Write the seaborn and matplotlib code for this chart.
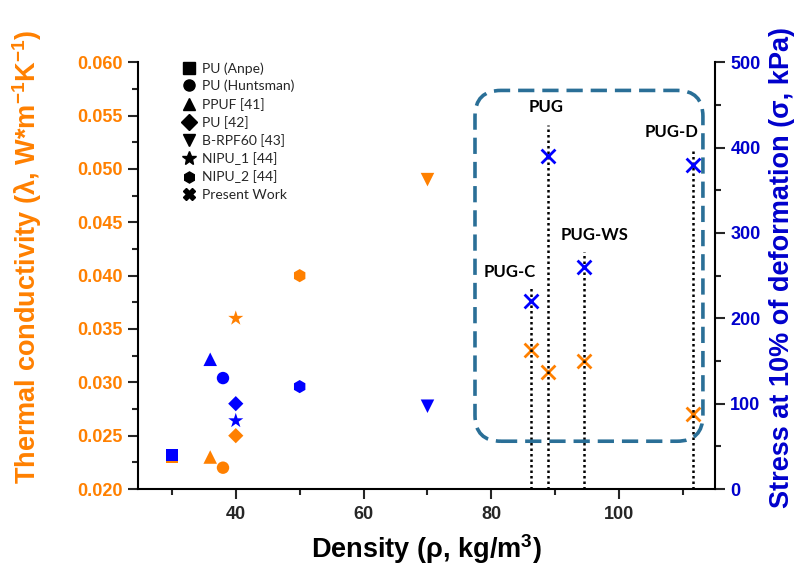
import matplotlib
matplotlib.use("Agg")
import numpy as np
import pandas as pd
import matplotlib.pyplot as plt
import seaborn as sns
from matplotlib.patches import FancyBboxPatch
from matplotlib.lines import Line2D
from matplotlib.ticker import MultipleLocator

# ---------------- data ----------------
materials = ["PU (Anpe)", "PU (Huntsman)", "PPUF [41]", "PU [42]",
             "B-RPF60 [43]", "NIPU_1 [44]", "NIPU_2 [44]"]
lit_density = [30, 38, 36, 40, 70, 40, 50]
lit_conductivity = [0.023, 0.022, 0.023, 0.025, 0.049, 0.036, 0.040]
lit_stress = [40, 130, 152, 100, 97, 80, 120]

samples = ["PUG-C", "PUG", "PUG-WS", "PUG-D"]
pw_density = [86.2, 88.8, 94.5, 111.6]
pw_conductivity = [0.033, 0.031, 0.032, 0.027]
pw_stress = [220, 390, 260, 380]
guide_top = [235, 426, 278, 399]          # top of dotted guide lines (kPa)

left_ticks = [0.020, 0.025, 0.030, 0.035, 0.040, 0.045, 0.050, 0.055, 0.060]
right_ticks = [0, 100, 200, 300, 400, 500]
x_ticks = [40, 60, 80, 100]

# ---------------- style ----------------
ORANGE = "#FF8000"
BLUE = "#0000FF"
BLUE_TXT = "#0000CC"
BOX = "#2A6F97"

sns.set_theme(style="white")
plt.rcParams["font.family"] = ["Liberation Sans", "DejaVu Sans"]
plt.rcParams["mathtext.fontset"] = "custom"
plt.rcParams["mathtext.rm"] = "Liberation Sans:bold"
plt.rcParams["mathtext.it"] = "Liberation Sans:bold"
plt.rcParams["mathtext.bf"] = "Liberation Sans:bold"
plt.rcParams["mathtext.default"] = "rm"

marker_map = {"PU (Anpe)": "s", "PU (Huntsman)": "o", "PPUF [41]": "^",
              "PU [42]": "D", "B-RPF60 [43]": "v", "NIPU_1 [44]": "*",
              "NIPU_2 [44]": "h"}
size_map = {"PU (Anpe)": 70, "PU (Huntsman)": 80, "PPUF [41]": 95,
            "PU [42]": 60, "B-RPF60 [43]": 95, "NIPU_1 [44]": 130,
            "NIPU_2 [44]": 90}

lit = pd.DataFrame({"material": materials, "density": lit_density,
                    "conductivity": lit_conductivity, "stress": lit_stress})
lit["size"] = lit["material"].map(size_map)
pw = pd.DataFrame({"sample": samples, "density": pw_density,
                   "conductivity": pw_conductivity, "stress": pw_stress,
                   "top": guide_top})

fig = plt.figure(figsize=(8, 5.66), dpi=100)
ax = fig.add_axes([0.1725, 0.136, 0.7213, 0.754])
ax2 = ax.twinx()

# thermal conductivity (orange, left axis)
sns.scatterplot(data=lit, x="density", y="conductivity", style="material",
                markers=marker_map, size="size", sizes=(60, 130),
                color=ORANGE, linewidth=0, legend=False, ax=ax)
sns.scatterplot(data=pw, x="density", y="conductivity", marker="x",
                s=100, color=ORANGE, linewidth=2, legend=False, ax=ax)

# dotted guides + stress (blue, right axis)
ax2.vlines(pw["density"], 0, pw["top"], colors="black",
           linestyles=(0, (1, 1.2)), linewidth=1.8, zorder=1)
sns.scatterplot(data=lit, x="density", y="stress", style="material",
                markers=marker_map, size="size", sizes=(60, 130),
                color=BLUE, linewidth=0, legend=False, ax=ax2, zorder=3)
sns.scatterplot(data=pw, x="density", y="stress", marker="x",
                s=100, color=BLUE, linewidth=2, legend=False, ax=ax2, zorder=3)

label_dx = [-3.4, -0.2, 1.6, -3.4]
label_dy = [10, 12, 10, 10]
for i, r in pw.iterrows():
    ax2.text(r["density"] + label_dx[i], r["top"] + label_dy[i], r["sample"],
             ha="center", va="bottom", fontsize=12, fontweight="bold",
             family=["Lato", "DejaVu Sans"], color="black")

# dashed rounded box
box = FancyBboxPatch((0.584, 0.112), 0.395, 0.822,
                     boxstyle="round,pad=0,rounding_size=0.045",
                     mutation_aspect=577 / 427, transform=ax.transAxes,
                     fill=False, edgecolor=BOX, linewidth=2.6,
                     linestyle=(0, (4.5, 2.2)), zorder=5, clip_on=False)
ax2.add_patch(box)

# axes limits & ticks
ax.set_xlim(24.7, 115)
ax.set_ylim(0.020, 0.060)
ax2.set_ylim(0, 500)
ax.set_xticks(x_ticks)
ax.xaxis.set_minor_locator(MultipleLocator(10))
ax.set_yticks(left_ticks)
ax.set_yticklabels([f"{v:.3f}" for v in left_ticks])
ax.yaxis.set_minor_locator(MultipleLocator(0.0025))
ax2.set_yticks(right_ticks)
ax2.yaxis.set_minor_locator(MultipleLocator(50))

for a in (ax, ax2):
    for s in a.spines.values():
        s.set_color("black")
        s.set_linewidth(1.5)
    a.spines["top"].set_visible(False)
    a.grid(False)
ax.spines["right"].set_visible(False)
ax2.spines["left"].set_visible(False)
ax2.spines["bottom"].set_visible(False)

ax.tick_params(axis="x", which="major", direction="out", length=7, width=1.5,
               bottom=True, labelsize=13, pad=5)
ax.tick_params(axis="x", which="minor", direction="out", length=4, width=1.5,
               bottom=True)
ax.tick_params(axis="y", which="major", direction="out", length=7, width=1.5,
               left=True, labelsize=13, labelcolor=ORANGE, pad=4)
ax.tick_params(axis="y", which="minor", direction="out", length=4, width=1.5,
               left=True)
ax2.tick_params(axis="y", which="major", direction="out", length=7, width=1.5,
                right=True, labelsize=13, labelcolor=BLUE_TXT, pad=4)
ax2.tick_params(axis="y", which="minor", direction="out", length=4, width=1.5,
                right=True)
for lab in ax.get_xticklabels() + ax.get_yticklabels() + ax2.get_yticklabels():
    lab.set_fontweight("bold")

ax.set_xlabel("Density (\u03c1, kg/m$^{3}$)", fontsize=19.5, fontweight="bold",
              color="black")
ax.xaxis.set_label_coords(0.5, -0.1)
ax.xaxis.label.set_verticalalignment("top")
ax.set_ylabel("Thermal conductivity (\u03bb, W*m$^{-1}$K$^{-1}$)", fontsize=19.5,
              fontweight="bold", color=ORANGE)
ax.yaxis.set_label_coords(-0.163, 0.543)
ax2.set_ylabel("Stress at 10% of deformation (\u03c3, kPa)", fontsize=19.5,
               fontweight="bold", color=BLUE_TXT)
ax2.yaxis.set_label_coords(1.093, 0.52)

# legend (black symbols)
handles = [Line2D([], [], linestyle="none", marker=marker_map[m], color="black",
                  markersize=8 if m != "NIPU_1 [44]" else 10) for m in materials]
handles.append(Line2D([], [], linestyle="none", marker="X", color="black",
                      markersize=8))
ax.legend(handles, materials + ["Present Work"], loc="upper left",
          bbox_to_anchor=(0.055, 1.03), frameon=False, handlelength=1.0,
          handletextpad=0.45, labelspacing=0.38,
          prop={"family": ["Lato", "DejaVu Sans"], "size": 10})

fig.savefig("out.png", dpi=100)
